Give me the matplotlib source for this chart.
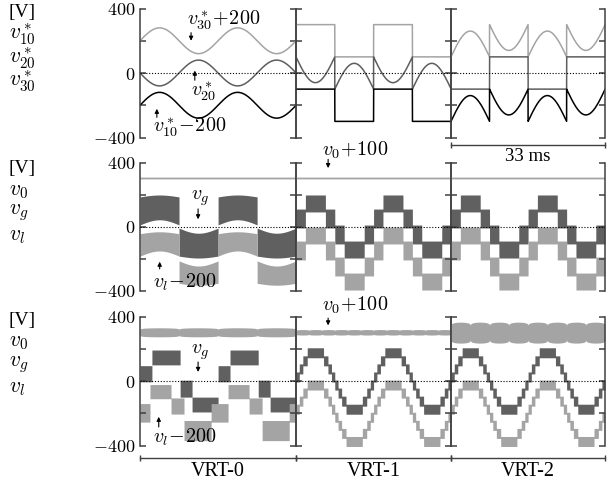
import numpy as np
import matplotlib.pyplot as plt

plt.rcParams['font.family'] = ['Liberation Serif', 'DejaVu Serif']
plt.rcParams['mathtext.fontset'] = 'cm'

# ---------------- values ----------------
schemes = ['VRT-0', 'VRT-1', 'VRT-2']
window_ms = 33.3            # every column spans 33 ms (two grid cycles)
grid_hz = 60
ref_amp = 80                # amplitude of v10*, v20*, v30*
clamp = 100                 # clamp level of VRT-1 / VRT-2
ref_shift = [-200, 0, 200]  # v10*-200, v20*, v30*+200
v0_dc = 200                 # dc-link voltage, plotted +100
v0_shift = 100
vl_shift = -200
ac_amp = 145                # fundamental of v_g and v_l

# VRT-0, middle row: band edges [inner, outer] per half cycle and sine tilt
vg0_band = [10, 185]
vl0_band = [15, 155]
band0_tilt = [32, 12]       # tilt of inner and outer edge

# middle row VRT-1 / VRT-2: coarse staircase levels and overlap
step_levels = [-188, -100, 0, 100, 188]
step_pad = 9

# bottom row VRT-0: blocks per phase segment of the grid cycle [deg]
vg0_seg_deg = [0, 55, 185, 240, 360]
vg0_seg_lo = [-5, 100, -100, -192]
vg0_seg_hi = [95, 192, 5, -100]
vl0_seg_deg = [0, 46, 143, 203, 328, 360]
vl0_seg_lo = [-55, 90, -5, -170, -55]
vl0_seg_hi = [60, 178, 95, -45, 60]

# bottom row VRT-1 / VRT-2: fine staircase
fine_amp = 190
fine_step = 50
fine_pad = 6

# bottom row v0 band: centre, max / min half-width, notches per cycle
v0_centre = [302, 302, 300]
v0_hw_max = [28, 17, 65]
v0_hw_min = [12, 8, 30]
v0_notch = [1, 3, 2]

c_light = '#a4a4a4'
c_mid = '#5e5e5e'
c_dark = '#606060'
c_axis = '#404040'

# ---------------- figure layout ----------------
W, H = 609, 484
fig = plt.figure(figsize=(W / 100, H / 100), dpi=100)
col_x = [140, 296, 451, 605]
row_y = [(8.5, 137.5), (162.5, 290.5), (316.5, 445.5)]

t = np.linspace(0, window_ms, 4000)
wt = 2 * np.pi * grid_hz * t / 1000
s = np.sin(wt)
sq = np.where(s >= 0, 1.0, -1.0)
cycle_deg = np.degrees(np.mod(wt, 2 * np.pi))


def staircase(ref, levels, pad):
    k = np.clip(np.digitize(ref, levels), 1, len(levels) - 1)
    return np.asarray(levels)[k - 1] - pad, np.asarray(levels)[k] + pad


def segments(edges, lo, hi):
    k = np.clip(np.digitize(cycle_deg, edges), 1, len(edges) - 1) - 1
    return np.asarray(lo)[k], np.asarray(hi)[k]


axes = []
for r, (yt, yb) in enumerate(row_y):
    row = []
    for c in range(3):
        ax = fig.add_axes([col_x[c] / W, 1 - yb / H,
                           (col_x[c + 1] - col_x[c]) / W, (yb - yt) / H])
        ax.set_xlim(0, window_ms)
        ax.set_ylim(-400, 400)
        ax.patch.set_alpha(0)
        for sp in ['top', 'bottom']:
            ax.spines[sp].set_visible(False)
        for sp in ['left', 'right']:
            ax.spines[sp].set_color(c_axis)
            ax.spines[sp].set_linewidth(1.1)
        ax.set_xticks([])
        ax.set_yticks([-400, -200, 0, 200, 400])
        ax.set_yticklabels(['$-400$', '', '$0$', '', '$400$'])
        ax.tick_params(axis='y', direction='in', left=True, right=True,
                       length=4, width=1.1, color=c_axis,
                       labelleft=(c == 0), labelsize=13, pad=3)
        ax.axhline(0, color='k', lw=0.8, ls=(0, (1, 1.6)), zorder=5)
        row.append(ax)
    axes.append(row)

# ---------------- top row: references ----------------
for c in range(3):
    ax = axes[0][c]
    if c == 0:
        v13 = ref_amp * s
        v2 = -ref_amp * s
    elif c == 1:
        v13 = clamp * sq
        v2 = clamp * sq - 2 * ref_amp * s
    else:
        v13 = 2 * ref_amp * s - clamp * sq
        v2 = -clamp * sq
    ax.plot(t, v13 + ref_shift[2], color=c_light, lw=1.1)
    ax.plot(t, v2 + ref_shift[1], color=c_mid, lw=1.1)
    ax.plot(t, v13 + ref_shift[0], color='k', lw=1.1)

# ---------------- middle row: v0, vg, vl ----------------
ref = ac_amp * s
for c in range(3):
    ax = axes[1][c]
    ax.plot(t, np.full_like(t, v0_dc + v0_shift), color=c_light, lw=1.3)
    if c == 0:
        g_lo = sq * vg0_band[0] + band0_tilt[0] * s
        g_hi = sq * vg0_band[1] + band0_tilt[1] * s
        l_lo = sq * vl0_band[0] + band0_tilt[0] * s
        l_hi = sq * vl0_band[1] + band0_tilt[1] * s
    else:
        g_lo, g_hi = staircase(ref, step_levels, step_pad)
        l_lo, l_hi = staircase(ref, step_levels, step_pad)
    ax.fill_between(t, g_lo, g_hi, color=c_dark, lw=0)
    ax.fill_between(t, l_lo + vl_shift, l_hi + vl_shift, color=c_light, lw=0)

# ---------------- bottom row: v0, vg, vl ----------------
fine_levels = np.arange(-4, 5) * fine_step
for c in range(3):
    ax = axes[2][c]
    hw = v0_hw_min[c] + (v0_hw_max[c] - v0_hw_min[c]) * \
        np.abs(np.sin(v0_notch[c] * wt)) ** 0.15
    ax.fill_between(t, v0_centre[c] - hw, v0_centre[c] + hw,
                    color=c_light, lw=0)
    if c == 0:
        g_lo, g_hi = segments(vg0_seg_deg, vg0_seg_lo, vg0_seg_hi)
        l_lo, l_hi = segments(vl0_seg_deg, vl0_seg_lo, vl0_seg_hi)
    else:
        g_lo, g_hi = staircase(fine_amp * s, fine_levels, fine_pad)
        l_lo, l_hi = g_lo, g_hi
    ax.fill_between(t, g_lo, g_hi, color=c_dark, lw=0)
    ax.fill_between(t, l_lo + vl_shift, l_hi + vl_shift, color=c_light, lw=0)

# ---------------- annotations ----------------
arrow = dict(arrowstyle='-|>', color='k', lw=0.8, mutation_scale=6,
             shrinkA=0, shrinkB=0)
tf = 14.5


def note(ax, label, tx, ty, ax_x, y0, y1):
    ax.text(tx, ty, label, fontsize=tf, ha='center', va='center', zorder=10)
    ax.annotate('', xy=(ax_x, y1), xytext=(ax_x, y0), arrowprops=arrow,
                annotation_clip=False)


note(axes[0][0], r'$v^*_{30}\!+\!200$', 17.9, 330, 10.9, 250, 200)
note(axes[0][0], r'$v^*_{20}$', 13.6, -112, 11.7, -45, 15)
note(axes[0][0], r'$v^*_{10}\!-\!200$', 10.6, -337, 3.6, -275, -222)

note(axes[1][1], r'$v_0\!+\!100$', 12.6, 478, 6.9, 420, 365)
note(axes[1][0], r'$v_g$', 12.9, 178, 12.4, 110, 45)
note(axes[1][0], r'$v_l\!-\!200$', 9.5, -347, 4.2, -265, -220)

note(axes[2][1], r'$v_0\!+\!100$', 12.6, 470, 6.9, 390, 345)
note(axes[2][0], r'$v_g$', 12.8, 178, 12.4, 118, 56)
note(axes[2][0], r'$v_l\!-\!200$', 9.5, -350, 4.0, -285, -222)

# left legends
labels = [['[V]', r'$v^*_{10}$', r'$v^*_{20}$', r'$v^*_{30}$'],
          ['[V]', r'$v_0$', r'$v_g$', r'$v_l$'],
          ['[V]', r'$v_0$', r'$v_g$', r'$v_l$']]
label_y = [[13, 34, 58, 81], [168, 191, 213, 236], [320, 343, 365, 388]]
for names, ys in zip(labels, label_y):
    for i, (name, y) in enumerate(zip(names, ys)):
        fig.text(9 / W, 1 - y / H, name, fontsize=15.5 if i else 14,
                 ha='left', va='center')

# time bracket and scheme brackets
ax = axes[0][2]
ax.plot([0, 1], [-0.058, -0.058], transform=ax.transAxes, color=c_axis,
        lw=1, marker='|', markersize=5, clip_on=False)
ax.text(0.5, -0.15, '33 ms', transform=ax.transAxes, ha='center',
        va='center', fontsize=13.5)
for c, name in enumerate(schemes):
    ax = axes[2][c]
    ax.plot([0, 1], [-0.097, -0.097], transform=ax.transAxes, color=c_axis,
            lw=1, marker='|', markersize=5, clip_on=False)
    ax.text(0.5, -0.205, name, transform=ax.transAxes, ha='center',
            va='center', fontsize=14.5)

fig.savefig('out.png', dpi=100)
